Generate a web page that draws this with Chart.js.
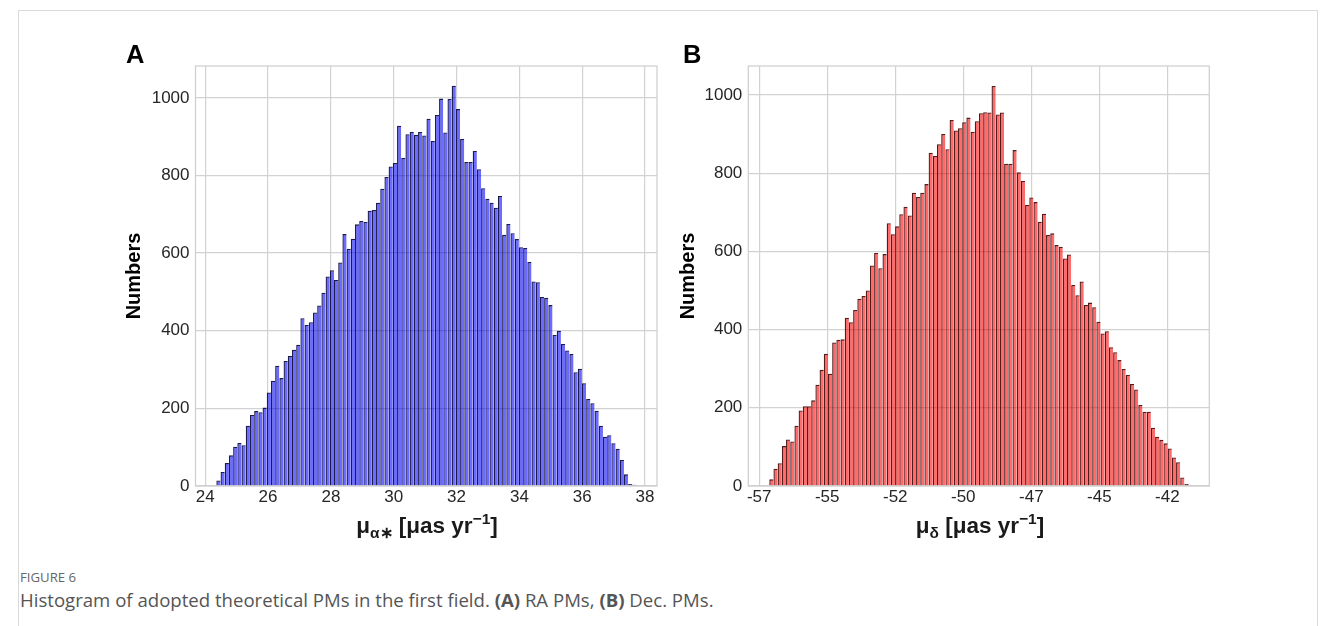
<!DOCTYPE html>
<html><head><meta charset="utf-8">
<script src="https://cdn.jsdelivr.net/npm/chart.js@4.4.0/dist/chart.umd.min.js"></script>
<style>
html,body{margin:0;padding:0;background:#fff;}
body{width:1332px;height:626px;overflow:hidden;position:relative;font-family:"Liberation Sans",Arial,sans-serif;}
.frame{position:absolute;left:18px;top:10px;width:1300px;height:700px;border:1px solid #d9d9d9;box-sizing:border-box;}
.cv{position:absolute;}
.panel{position:absolute;font-weight:bold;font-size:25.5px;line-height:25.5px;color:#000;}
.xt{position:absolute;font-weight:bold;font-size:22.5px;line-height:22px;color:#1a1a1a;white-space:nowrap;transform:translateX(-50%);}
.xt sub{font-size:15.5px;vertical-align:-5px;line-height:0;}
.xt sup{font-size:15.5px;vertical-align:9px;line-height:0;}
.fig{position:absolute;left:20px;top:569px;font-family:"Open Sans",sans-serif;font-size:13.2px;color:#666;line-height:16px;}
.cap{position:absolute;left:20px;top:588px;font-family:"Open Sans",sans-serif;font-size:18.6px;color:#555;line-height:24px;white-space:nowrap;}
</style></head>
<body>
<div class="frame"></div>
<canvas id="cA" class="cv" width="570" height="530" style="left:100px;top:30px;"></canvas>
<canvas id="cB" class="cv" width="570" height="530" style="left:654px;top:30px;"></canvas>
<div class="panel" style="left:126px;top:41.7px;">A</div>
<div class="panel" style="left:683px;top:41.7px;">B</div>
<div class="xt" style="left:427px;top:515px;">μ<sub>α∗</sub> [μas yr<sup>−1</sup>]</div>
<div class="xt" style="left:980px;top:515px;">μ<sub>δ</sub> [μas yr<sup>−1</sup>]</div>
<div class="fig">FIGURE 6</div>
<div class="cap">Histogram of adopted theoretical PMs in the first field. <b>(A)</b> RA PMs, <b>(B)</b> Dec. PMs.</div>
<script>
// ---- Panel A (RA PMs) ----
const binStartA = 24.353;
const binWidthA = 0.13377;
const countsA = [14,36,59,79,101,111,105,155,183,193,190,202,241,271,310,278,322,335,351,364,
  432,415,422,447,465,498,540,556,531,576,649,611,637,674,683,680,709,711,730,766,
  796,823,832,928,845,906,912,905,912,903,946,889,956,998,911,997,1031,971,894,835,
  835,863,816,767,740,730,717,747,647,675,651,636,615,613,577,527,525,487,485,466,
  389,400,366,349,340,293,302,265,224,213,194,155,127,131,110,96,67,30,5,3];
const xTicksA = [24,26,28,30,32,34,36,38];
const xTickLabelsA = ['24','26','28','30','32','34','36','38'];
const xRangeA = [23.69, 38.38];
const yMaxA = 1082;

// ---- Panel B (Dec. PMs) ----
const binStartB = -56.63;
const binWidthB = 0.1541;
const countsB = [17,44,58,102,119,114,154,193,204,204,219,259,297,338,287,367,374,375,430,419,
  450,479,486,500,564,596,557,593,672,644,664,695,714,692,750,739,750,772,852,844,
  874,900,861,936,909,915,930,942,906,933,953,956,955,1023,950,955,824,824,859,802,
  780,719,738,726,676,696,642,646,616,612,582,592,514,488,523,463,469,457,420,390,
  396,355,342,322,299,284,261,247,207,190,190,149,126,118,109,96,73,61,22,5];
const xTicksB = [-57,-54.5,-52,-49.5,-47,-44.5,-42];
const xTickLabelsB = ['-57','-55','-52','-50','-47','-45','-42'];
const xRangeB = [-57.40, -40.46];
const yMaxB = 1074;

const yTicks = [0,200,400,600,800,1000];

const framePlugin = {
  id: 'frame',
  afterDatasetsDraw(chart) {
    const {ctx, chartArea: a} = chart;
    ctx.save();
    ctx.strokeStyle = '#cfcfcf';
    ctx.lineWidth = 1.25;
    ctx.strokeRect(a.left, a.top, a.right - a.left, a.bottom - a.top);
    ctx.restore();
  }
};

function makeChart(id, counts, start, width, fill, edge, xTicks, xLabels, xRange, yMax, leftW, padRight) {
  const last = counts.length - 1;
  const data = counts.map((c, i) => ({x: start + (i + 0.5) * width, y: c}));
  return new Chart(document.getElementById(id), {
    type: 'bar',
    data: {datasets: [{
      data,
      backgroundColor: fill,
      borderColor: edge,
      borderWidth: (ctx) => ({top: 1.3, left: 1.3, bottom: 0, right: ctx.dataIndex === last ? 1.3 : 0}),
      borderSkipped: 'bottom',
      inflateAmount: 0,
      barPercentage: 1,
      categoryPercentage: 1
    }]},
    options: {
      responsive: false,
      animation: false,
      devicePixelRatio: 1,
      layout: {padding: {left: 0, top: 36, right: padRight, bottom: 0}},
      plugins: {legend: {display: false}, tooltip: {enabled: false}},
      scales: {
        x: {
          type: 'linear',
          offset: false,
          min: xRange[0], max: xRange[1],
          afterBuildTicks: (s) => { s.ticks = xTicks.map(v => ({value: v})); },
          afterFit: (s) => { s.height = 74; },
          grid: {color: '#d2d2d2', lineWidth: 1.2, drawTicks: false, offset: false},
          border: {display: false},
          ticks: {padding: 1, color: '#262626', maxRotation: 0, autoSkip: false,
                  font: {size: 17, family: 'Liberation Sans'},
                  callback: (v, i) => xLabels[i]}
        },
        y: {
          min: 0, max: yMax,
          afterBuildTicks: (s) => { s.ticks = yTicks.map(v => ({value: v})); },
          afterFit: (s) => { s.width = leftW; },
          grid: {color: '#d2d2d2', lineWidth: 1.2, drawTicks: false},
          border: {display: false},
          ticks: {padding: 6, color: '#262626', font: {size: 17, family: 'Liberation Sans'},
                  callback: (v) => String(v)},
          title: {display: true, text: 'Numbers', color: '#000',
                  font: {size: 20, weight: 'bold', family: 'Liberation Sans'},
                  padding: {top: 22, bottom: 0}}
        }
      }
    },
    plugins: [framePlugin]
  });
}

makeChart('cA', countsA, binStartA, binWidthA, 'rgba(0,0,255,0.58)', 'rgba(15,15,70,0.95)',
          xTicksA, xTickLabelsA, xRangeA, yMaxA, 95.5, 13);
makeChart('cB', countsB, binStartB, binWidthB, 'rgba(255,0,0,0.58)', 'rgba(75,15,15,0.95)',
          xTicksB, xTickLabelsB, xRangeB, yMaxB, 94.3, 14.7);
</script>
</body></html>
